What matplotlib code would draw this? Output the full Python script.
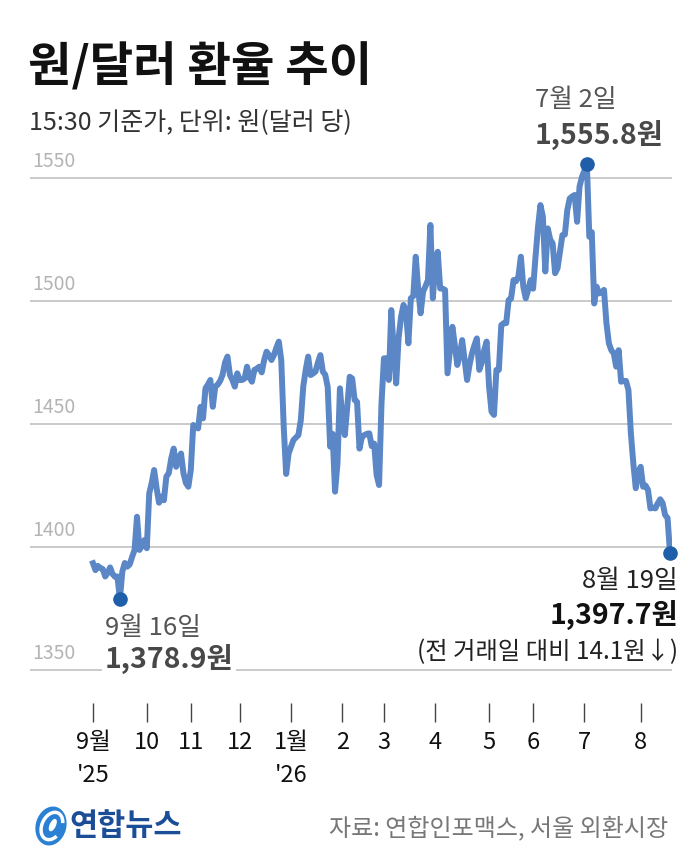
import matplotlib
matplotlib.use("Agg")
import matplotlib.pyplot as plt
from matplotlib.patches import Ellipse, Arc
import numpy as np

plt.rcParams['font.family'] = ['Noto Sans CJK KR', 'DejaVu Sans']

# ---- data: daily 15:30 closing rate (KRW per USD), by month ----
sep25 = [1393.4, 1390.6, 1392.3, 1391.5, 1391.0, 1388.0, 1389.5, 1391.7, 1389.0, 1387.9,
         1388.0, 1378.9, 1390.0, 1393.5, 1392.0, 1392.9, 1396.0, 1398.8, 1412.3, 1398.8,
         1400.5, 1402.8]
oct25 = [1399.5, 1421.8, 1426.0, 1431.3, 1424.0, 1418.0, 1420.5, 1419.0, 1428.6, 1430.0,
         1436.0, 1440.0, 1432.6, 1436.0, 1438.0, 1430.0, 1426.0, 1424.5]
nov25 = [1431.3, 1449.6, 1448.8, 1448.2, 1457.0, 1452.3, 1464.5, 1466.0, 1467.9, 1457.0,
         1465.2, 1466.0, 1467.5, 1470.0, 1475.0, 1477.4, 1470.0, 1467.9, 1465.2, 1470.6]
dec25 = [1467.9, 1467.9, 1468.5, 1473.3, 1469.0, 1467.2, 1472.0, 1472.5, 1473.3, 1471.0,
         1476.0, 1479.4, 1478.0, 1476.0, 1478.0, 1481.0, 1483.5, 1476.0, 1449.0, 1429.7,
         1438.0]
jan26 = [1440.8, 1443.5, 1444.5, 1445.5, 1451.6, 1465.2, 1472.0, 1477.4, 1469.9, 1470.5,
         1471.3, 1475.0, 1478.0, 1471.3, 1470.0, 1465.0, 1440.8, 1446.0, 1422.5, 1434.0,
         1464.5]
feb26 = [1452.0, 1445.5, 1457.0, 1469.2, 1468.5, 1459.8, 1459.0, 1440.0, 1444.8, 1445.5,
         1446.0, 1446.2, 1441.0, 1442.0, 1429.3, 1425.2, 1458.4]
mar26 = [1476.7, 1476.7, 1467.9, 1496.3, 1480.0, 1466.5, 1485.0, 1493.6, 1498.4, 1496.0,
         1482.8, 1501.1, 1502.0, 1518.0, 1505.0, 1495.0, 1503.8, 1506.0, 1508.5, 1530.9,
         1501.1]
apr26 = [1515.0, 1520.0, 1505.1, 1505.0, 1504.5, 1470.6, 1480.0, 1489.5, 1482.0, 1474.0,
         1478.0, 1484.1, 1476.0, 1467.9, 1474.0, 1478.7, 1482.0, 1484.8, 1472.0, 1475.0,
         1480.0, 1483.5]
may26 = [1465.2, 1455.0, 1453.7, 1472.0, 1472.0, 1490.2, 1491.0, 1491.0, 1500.4, 1501.0,
         1508.5, 1508.0, 1510.0, 1518.0, 1505.8, 1501.1, 1504.5, 1508.5]
jun26 = [1505.0, 1518.0, 1530.0, 1539.0, 1534.3, 1512.0, 1529.5, 1525.0, 1523.4, 1511.3,
         1513.3, 1520.0, 1526.8, 1527.0, 1537.0, 1541.7, 1542.5, 1543.1, 1532.2, 1546.5,
         1550.5]
jul26 = [1553.0, 1555.8, 1526.1, 1528.0, 1499.0, 1505.8, 1503.1, 1503.5, 1504.5, 1491.0,
         1482.8, 1480.0, 1478.7, 1473.3, 1480.0, 1467.2, 1467.5, 1467.5, 1463.8, 1446.2,
         1434.0, 1423.9, 1430.0]
aug26 = [1432.6, 1424.5, 1425.0, 1423.2, 1415.7, 1416.0, 1415.7, 1417.8, 1419.4, 1417.8,
         1413.0, 1411.8, 1397.7]

months = [sep25, oct25, nov25, dec25, jan26, feb26, mar26, apr26, may26, jun26, jul26, aug26]
month_labels = ["9월\n'25", "10", "11", "12", "1월\n'26", "2", "3", "4", "5", "6", "7", "8"]
y_ticks = [1350, 1400, 1450, 1500, 1550]

low_label, low_value = "9월 16일", "1,378.9원"
high_label, high_value = "7월 2일", "1,555.8원"
last_label, last_value = "8월 19일", "1,397.7원"
last_change = "(전 거래일 대비 14.1원↓)"

title = "원/달러 환율 추이"
subtitle = "15:30 기준가, 단위: 원(달러 당)"
source = "자료: 연합인포맥스, 서울 외환시장"

values = np.concatenate([np.array(m) for m in months])
x = np.arange(len(values))
month_starts = np.cumsum([0] + [len(m) for m in months[:-1]])

W, H = 700, 860
fig = plt.figure(figsize=(W / 100, H / 100), dpi=100)
fig.patch.set_facecolor('white')

def fx(px):
    return px / W

def fy(py):
    return 1 - py / H

left_px, right_px, top_px, bot_px = 30, 672.5, 150, 703
ax = fig.add_axes([fx(left_px), fy(bot_px), fx(right_px - left_px), (bot_px - top_px) / H])
ppd = (670 - 93) / 236.0
ax.set_xlim(-(93 - left_px) / ppd, (right_px - 93) / ppd)
ppv = 2.46
ax.set_ylim(1350 - (bot_px - 670) / ppv, 1350 + (670 - top_px) / ppv)
for s in ax.spines.values():
    s.set_visible(False)
ax.set_yticks([])

for v in y_ticks:
    ax.axhline(v, color='#c6c6c6', lw=1.3, zorder=1)
    ax.annotate(str(v), xy=(0, v), xycoords=ax.get_yaxis_transform(),
                xytext=(1.5, 4), textcoords='offset points',
                ha='left', va='bottom', fontsize=14, color='#b4b4b4', zorder=2)

ax.plot(x, values, color='#5b87c6', lw=4.3, solid_joinstyle='round', zorder=3)

imin = int(np.argmin(values))
imax = int(np.argmax(values))
ilast = len(values) - 1
ax.plot([imin, imax, ilast], [values[imin], values[imax], values[ilast]], 'o',
        color='#1f5ea8', ms=9.5, zorder=4, clip_on=False)

P = 72 / 100.0  # points per pixel

ax.annotate(high_label, xy=(imax, values[imax]), xytext=(-52 * P, 64 * P),
            textcoords='offset points', ha='left', va='center', fontsize=18.5,
            color='#555555', zorder=5)
ax.annotate(high_value, xy=(imax, values[imax]), xytext=(-52 * P, 28 * P),
            textcoords='offset points', ha='left', va='center', fontsize=20.5,
            fontweight='bold', color='#484848', zorder=5)

ax.annotate(low_label, xy=(imin, values[imin]), xytext=(-15 * P, -29 * P),
            textcoords='offset points', ha='left', va='center', fontsize=18.5,
            color='#555555', zorder=5,
            bbox=dict(boxstyle='square,pad=0.05', fc='white', ec='none'))
ax.annotate(low_value, xy=(imin, values[imin]), xytext=(-15 * P, -61 * P),
            textcoords='offset points', ha='left', va='center', fontsize=20.5,
            fontweight='bold', color='#484848', zorder=5,
            bbox=dict(boxstyle='square,pad=0.1', fc='white', ec='none'))

ax.annotate(last_label, xy=(ilast, values[ilast]), xytext=(8 * P, -28 * P),
            textcoords='offset points', ha='right', va='center', fontsize=18.5,
            color='#222222', zorder=5)
ax.annotate(last_value, xy=(ilast, values[ilast]), xytext=(8 * P, -63 * P),
            textcoords='offset points', ha='right', va='center', fontsize=20.5,
            fontweight='bold', color='#111111', zorder=5)
ax.annotate(last_change, xy=(ilast, values[ilast]), xytext=(8 * P, -99 * P),
            textcoords='offset points', ha='right', va='center', fontsize=17.5,
            color='#222222', zorder=5)

ax.set_xticks(month_starts)
ax.set_xticklabels(month_labels, fontsize=17, color='#111111', linespacing=1.55)
ax.tick_params(axis='x', length=19 * P, width=1.0, color='#444444', pad=9 * P,
               direction='out')

fig.text(fx(28), fy(67), title, fontsize=34, fontweight='bold', color='#111111',
         ha='left', va='center')
fig.text(fx(29), fy(122), subtitle, fontsize=18, color='#333333', ha='left', va='center')

fig.text(fx(668), fy(828), source, fontsize=17.3, color='#777777', ha='right', va='center')

lax = fig.add_axes([fx(33), fy(847), fx(36), 42 / H])
lax.set_xlim(-1, 1)
lax.set_ylim(-1.17, 1.17)
lax.axis('off')
lax.add_patch(Ellipse((0, 0), 1.7, 2.2, angle=-15, fc='#2a80d2', ec='none'))
lax.add_patch(Arc((0.05, 0.0), 1.1, 1.6, angle=-25, theta1=40, theta2=320,
                  color='white', lw=2.5))
lax.add_patch(Ellipse((0.1, 0.05), 0.35, 0.75, angle=-25, fc='white', ec='none'))
fig.text(fx(69), fy(826), "연합뉴스", fontsize=22, fontweight='bold', color='#1c4d97',
         ha='left', va='center')

fig.savefig('out.png', dpi=100, facecolor='white')
